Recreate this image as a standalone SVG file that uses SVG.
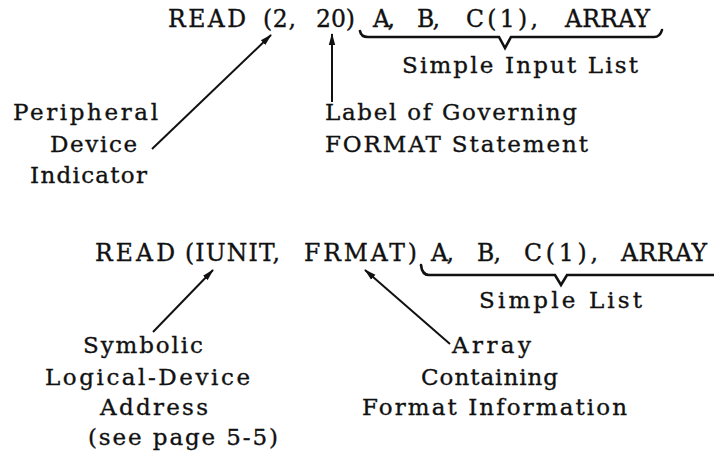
<svg xmlns="http://www.w3.org/2000/svg" width="714" height="454" viewBox="0 0 714 454">
<style>
text{font-family:"DejaVu Serif","Liberation Serif",serif;fill:#111;stroke:#111;stroke-width:0.35;}
.code{font-size:23.5px;}
.lbl{font-size:23px;}
.ln{stroke:#111;stroke-width:2;fill:none;}
.br{stroke:#111;stroke-width:2.6;fill:none;stroke-linejoin:miter;stroke-linecap:round;}
</style>
<defs>
<marker id="ah" markerWidth="12" markerHeight="8" refX="11" refY="4" orient="auto" markerUnits="userSpaceOnUse">
<path d="M0,0.8 L12,4 L0,7.2 z" fill="#111"/>
</marker>
</defs>
<rect width="714" height="454" fill="#fff"/>

<g id="stmt1">
<text class="code" x="168" y="27" textLength="78" lengthAdjust="spacing">READ</text>
<text class="code" x="263" y="27" textLength="33" lengthAdjust="spacing">(2,</text>
<text class="code" x="316" y="27" textLength="39" lengthAdjust="spacing">20)</text>
<text class="code" x="373" y="27" textLength="22" lengthAdjust="spacing">A,</text>
<text class="code" x="417" y="27" textLength="23" lengthAdjust="spacing">B,</text>
<text class="code" x="466" y="27" textLength="72" lengthAdjust="spacing">C(1),</text>
<text class="code" x="565" y="27" textLength="85" lengthAdjust="spacing">ARRAY</text>
</g>

<g id="brace1">
<path class="br" d="M360,31 Q361,37 368,37 L499,37 L505,48 L511,37 L654,37 Q660,37 662,30"/>
</g>
<g id="label-simple-input-list">
<text class="lbl" x="402" y="73" textLength="236" lengthAdjust="spacing">Simple Input List</text>
</g>

<g id="label-peripheral">
<text class="lbl" x="13" y="120" textLength="145" lengthAdjust="spacing">Peripheral</text>
<text class="lbl" x="50" y="152" textLength="87" lengthAdjust="spacing">Device</text>
<text class="lbl" x="30" y="183" textLength="117" lengthAdjust="spacing">Indicator</text>
</g>

<g id="label-governing">
<text class="lbl" x="325" y="120" textLength="252" lengthAdjust="spacing">Label of Governing</text>
<text class="lbl" x="325" y="152" textLength="263" lengthAdjust="spacing">FORMAT Statement</text>
</g>

<g id="stmt2">
<text class="code" x="95" y="261" textLength="80" lengthAdjust="spacing">READ</text>
<text class="code" x="185" y="261" textLength="95" lengthAdjust="spacing">(IUNIT,</text>
<text class="code" x="304" y="261" textLength="113" lengthAdjust="spacing">FRMAT)</text>
<text class="code" x="431" y="261" textLength="23" lengthAdjust="spacing">A,</text>
<text class="code" x="477" y="261" textLength="24" lengthAdjust="spacing">B,</text>
<text class="code" x="524" y="261" textLength="74" lengthAdjust="spacing">C(1),</text>
<text class="code" x="621" y="261" textLength="86" lengthAdjust="spacing">ARRAY</text>
</g>

<g id="brace2">
<path class="br" d="M421,265 Q422,275 429,275 L555,275 L561,285 L567,275 L716,275"/>
</g>
<g id="label-simple-list">
<text class="lbl" x="479" y="308" textLength="163" lengthAdjust="spacing">Simple List</text>
</g>

<g id="label-symbolic">
<text class="lbl" x="83" y="353" textLength="120" lengthAdjust="spacing">Symbolic</text>
<text class="lbl" x="45" y="385" textLength="205" lengthAdjust="spacing">Logical-Device</text>
<text class="lbl" x="100" y="415" textLength="108" lengthAdjust="spacing">Address</text>
<text class="lbl" x="88" y="445" textLength="190" lengthAdjust="spacing">(see page 5-5)</text>
</g>

<g id="label-array">
<text class="lbl" x="452" y="353" textLength="79" lengthAdjust="spacing">Array</text>
<text class="lbl" x="421" y="385" textLength="137" lengthAdjust="spacing">Containing</text>
<text class="lbl" x="362" y="415" textLength="265" lengthAdjust="spacing">Format Information</text>
</g>

<g id="connectors">
<line class="ln" x1="152" y1="149" x2="271" y2="35" marker-end="url(#ah)"/>
<line class="ln" x1="332" y1="102" x2="332" y2="34" marker-end="url(#ah)"/>
<line class="ln" x1="153" y1="332" x2="213" y2="270" marker-end="url(#ah)"/>
<line class="ln" x1="450" y1="344" x2="365" y2="270" marker-end="url(#ah)"/>
</g>
</svg>
